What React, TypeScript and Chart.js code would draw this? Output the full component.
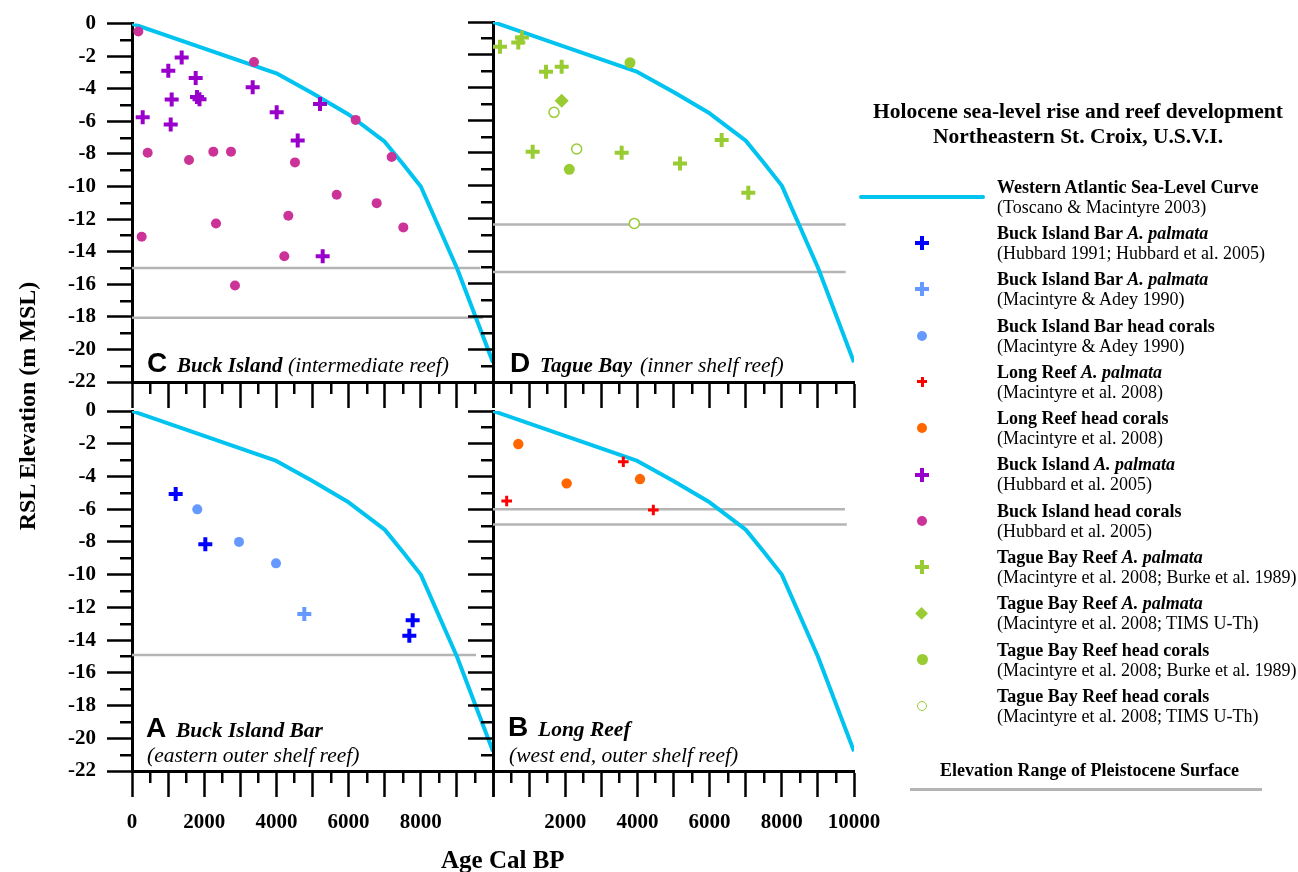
import React, { useEffect, useRef } from 'react';
import { Chart, registerables } from 'chart.js';

Chart.register(...registerables);

const W = 1298;
const H = 872;
const SERIF = '"Liberation Serif", "Times New Roman", Times, serif';
const SANS = '"Liberation Sans", Arial, Helvetica, sans-serif';

const CYAN = '#00c3ef';
const GRAY = '#b4b4b4';
const DARK_BLUE = '#0000ff';
const LIGHT_BLUE = '#6699ff';
const RED = '#ff0000';
const ORANGE = '#ff6600';
const PURPLE = '#9900cc';
const MAGENTA = '#cc3399';
const GREEN = '#99cc33';

// Axes
const X_MIN = 0;
const X_MAX = 10000;
const X_STEP = 1000;
const Y_MIN = -22;
const Y_MAX = 0;
const Y_STEP = 2;
const xTickLabelsLeft = [0, 2000, 4000, 6000, 8000];
const xTickLabelsRight = [2000, 4000, 6000, 8000, 10000];

// Western Atlantic sea-level curve (Toscano & Macintyre 2003)
const seaLevelAge = [0, 4000, 5000, 6000, 7000, 7500, 8000, 9000, 10000];
const seaLevelRsl = [0, -3.05, -4.28, -5.58, -7.25, -8.6, -10.0, -15.0, -20.8];

type Pt = [number, number];

// Panel C: Buck Island
const buckIslandPalmata: Pt[] = [
  [1376, -2.08], [1006, -2.89], [1764, -3.34], [1099, -4.66], [1800, -4.5], [1870, -4.65],
  [3343, -3.91], [296, -5.75], [1072, -6.19], [4008, -5.44], [5208, -4.93], [4590, -7.17], [5282, -14.28],
];
const buckIslandHeadCorals: Pt[] = [
  [175, -0.49], [3380, -2.36], [6196, -5.91], [434, -7.93], [1579, -8.37], [2253, -7.86],
  [2742, -7.86], [4515, -8.52], [7193, -8.19], [5670, -10.51], [6778, -11.02], [268, -13.08],
  [2327, -12.27], [4330, -11.8], [7516, -12.51], [4219, -14.28], [2853, -16.08],
];
const buckIslandPleistocene = [-15.0, -18.05];
const buckIslandPleistoceneEnd = [9650, 9720];

// Panel D: Tague Bay
const taguePalmata: Pt[] = [
  [194, -1.51], [700, -1.25], [800, -0.95], [1468, -3.04], [1902, -2.73], [1099, -7.93],
  [3564, -7.99], [5180, -8.64], [6334, -7.21], [7072, -10.43],
];
const taguePalmataTims: Pt[] = [[1902, -4.81]];
const tagueHeadCorals: Pt[] = [[3795, -2.49], [2114, -9.0]];
const tagueHeadCoralsTims: Pt[] = [[1690, -5.52], [2318, -7.76], [3915, -12.31]];
const taguePleistocene = [-12.37, -15.28];
const taguePleistoceneEnd = [9770, 9770];

// Panel A: Buck Island Bar
const bibPalmataHubbard: Pt[] = [[1210, -5.07], [2031, -8.15], [7775, -12.78], [7682, -13.73]];
const bibPalmataMacintyre: Pt[] = [[4773, -12.41]];
const bibHeadCorals: Pt[] = [[1809, -6.01], [2964, -8.0], [3989, -9.31]];
const bibPleistocene = [-14.91];
const bibPleistoceneEnd = [9530];

// Panel B: Long Reef
const longReefPalmata: Pt[] = [[379, -5.5], [3610, -3.1], [4441, -6.05]];
const longReefHeadCorals: Pt[] = [[701, -2.02], [2041, -4.42], [4072, -4.16]];
const longReefPleistocene = [-6.01, -6.93];
const longReefPleistoceneEnd = [9750, 9800];

const toXY = (pts: Pt[]) => pts.map(([x, y]) => ({ x, y }));

const crossSet = (pts: Pt[], color: string, radius = 7, width = 4) => ({
  data: toXY(pts), showLine: false, order: 0,
  pointStyle: 'cross', pointRadius: radius, pointBorderWidth: width,
  pointBorderColor: color, pointBackgroundColor: color,
});
const dotSet = (pts: Pt[], color: string, radius = 5) => ({
  data: toXY(pts), showLine: false, order: 0,
  pointStyle: 'circle', pointRadius: radius, pointBorderWidth: 0,
  pointBorderColor: color, pointBackgroundColor: color,
});
const ringSet = (pts: Pt[], color: string, radius = 5) => ({
  data: toXY(pts), showLine: false, order: 0,
  pointStyle: 'circle', pointRadius: radius, pointBorderWidth: 1.5,
  pointBorderColor: color, pointBackgroundColor: '#ffffff',
});
const diamondSet = (pts: Pt[], color: string, radius = 7) => ({
  data: toXY(pts), showLine: false, order: 0,
  pointStyle: 'rectRot', pointRadius: radius, pointBorderWidth: 0,
  pointBorderColor: color, pointBackgroundColor: color,
});
const curveSet = () => ({
  data: seaLevelAge.map((x, i) => ({ x, y: seaLevelRsl[i] })),
  showLine: true, borderColor: CYAN, borderWidth: 4, pointRadius: 0, tension: 0, order: 1,
  borderJoinStyle: 'round',
});
const pleistoceneSets = (levels: number[], ends: number[]) =>
  levels.map((y, i) => ({
    data: [{ x: 0, y }, { x: ends[i], y }],
    showLine: true, borderColor: GRAY, borderWidth: 2.5, pointRadius: 0, order: 2,
  }));

type Panel = {
  key: string; left: number; top: number; right: number; bottom: number;
  yLabels: boolean; xLabels: number[]; datasets: any[];
};

const panels: Panel[] = [
  {
    key: 'C', left: 132, top: 22, right: 493, bottom: 382, yLabels: true, xLabels: [],
    datasets: [
      crossSet(buckIslandPalmata, PURPLE),
      dotSet(buckIslandHeadCorals, MAGENTA),
      curveSet(),
      ...pleistoceneSets(buckIslandPleistocene, buckIslandPleistoceneEnd),
    ],
  },
  {
    key: 'D', left: 493, top: 22, right: 854, bottom: 382, yLabels: false, xLabels: [],
    datasets: [
      crossSet(taguePalmata, GREEN),
      diamondSet(taguePalmataTims, GREEN),
      dotSet(tagueHeadCorals, GREEN, 5.5),
      ringSet(tagueHeadCoralsTims, GREEN, 5),
      curveSet(),
      ...pleistoceneSets(taguePleistocene, taguePleistoceneEnd),
    ],
  },
  {
    key: 'A', left: 132, top: 411, right: 493, bottom: 771, yLabels: true, xLabels: xTickLabelsLeft,
    datasets: [
      crossSet(bibPalmataHubbard, DARK_BLUE),
      crossSet(bibPalmataMacintyre, LIGHT_BLUE),
      dotSet(bibHeadCorals, LIGHT_BLUE),
      curveSet(),
      ...pleistoceneSets(bibPleistocene, bibPleistoceneEnd),
    ],
  },
  {
    key: 'B', left: 493, top: 411, right: 854, bottom: 771, yLabels: false, xLabels: xTickLabelsRight,
    datasets: [
      crossSet(longReefPalmata, RED, 5.3, 3),
      dotSet(longReefHeadCorals, ORANGE, 5.2),
      curveSet(),
      ...pleistoceneSets(longReefPleistocene, longReefPleistoceneEnd),
    ],
  },
];

const MAJOR_TICK = 25;
const MINOR_TICK = 12;

const minorTicksPlugin = {
  id: 'minorTicks',
  afterDraw(chart: any) {
    const { ctx, chartArea } = chart;
    const xs = chart.scales.x;
    const ys = chart.scales.y;
    ctx.save();
    ctx.strokeStyle = '#000';
    ctx.lineWidth = 2.5;
    for (let v = Y_MIN + Y_STEP / 2; v < Y_MAX; v += Y_STEP) {
      const py = Math.round(ys.getPixelForValue(v)) + 0.25;
      ctx.beginPath();
      ctx.moveTo(chartArea.left - MINOR_TICK, py);
      ctx.lineTo(chartArea.left, py);
      ctx.stroke();
    }
    for (let v = X_MIN + X_STEP / 2; v < X_MAX; v += X_STEP) {
      const px = Math.round(xs.getPixelForValue(v)) + 0.25;
      ctx.beginPath();
      ctx.moveTo(px, chartArea.bottom);
      ctx.lineTo(px, chartArea.bottom + MINOR_TICK);
      ctx.stroke();
    }
    ctx.restore();
  },
};

function PanelChart({ panel }: { panel: Panel }) {
  const ref = useRef<HTMLCanvasElement>(null);
  useEffect(() => {
    if (!ref.current) return;
    const yAxisWidth = panel.yLabels ? panel.left : MAJOR_TICK;
    const xAxisHeight = panel.xLabels.length ? 64 : 26;
    const tickFont = { family: SERIF, size: 21, weight: 'bold' as const };
    const chart = new Chart(ref.current, {
      type: 'scatter',
      data: { datasets: panel.datasets },
      options: {
        responsive: false,
        animation: false,
        events: [],
        layout: {
          padding: {
            left: panel.left - yAxisWidth,
            top: panel.top,
            right: W - panel.right,
            bottom: H - panel.bottom - xAxisHeight,
          },
        },
        plugins: { legend: { display: false }, tooltip: { enabled: false }, title: { display: false } },
        scales: {
          x: {
            type: 'linear', position: 'bottom', min: X_MIN, max: X_MAX,
            ticks: {
              stepSize: X_STEP, autoSkip: false, maxRotation: 0, minRotation: 0, maxTicksLimit: 100,
              display: panel.xLabels.length > 0, padding: 13, color: '#000', font: tickFont,
              callback: (v: any) => (panel.xLabels.includes(Number(v)) ? String(v) : ''),
            },
            grid: {
              drawOnChartArea: false, drawTicks: true, tickLength: 26, tickWidth: 2.5,
              tickColor: '#000', color: '#000',
            },
            border: { display: true, width: 3, color: '#000' },
            afterFit: (s: any) => { s.height = xAxisHeight; },
          },
          y: {
            type: 'linear', position: 'left', min: Y_MIN, max: Y_MAX,
            ticks: {
              stepSize: Y_STEP, autoSkip: false, maxTicksLimit: 100,
              display: panel.yLabels, padding: 11, color: '#000', font: tickFont,
              callback: (v: any) => String(v),
            },
            grid: {
              drawOnChartArea: false, drawTicks: true, tickLength: MAJOR_TICK, tickWidth: 2.5,
              tickColor: '#000', color: '#000',
            },
            border: { display: true, width: 3, color: '#000' },
            afterFit: (s: any) => { s.width = yAxisWidth; },
          },
        },
      } as any,
      plugins: [minorTicksPlugin],
    });
    return () => chart.destroy();
  }, [panel]);
  return (
    <canvas
      ref={ref}
      width={W}
      height={H}
      style={{ position: 'absolute', left: 0, top: 0, width: W, height: H }}
    />
  );
}

type TxtProps = {
  x: number; base: number; size: number; family?: string; weight?: number;
  italic?: boolean; center?: boolean; children: React.ReactNode;
};
function Txt({ x, base, size, family = SERIF, weight = 400, italic = false, center = false, children }: TxtProps) {
  const ratio = family === SANS ? 0.8465 : 0.8375;
  const style: React.CSSProperties = {
    position: 'absolute', top: base - ratio * size, fontSize: size, lineHeight: `${size}px`,
    fontFamily: family, fontWeight: weight, fontStyle: italic ? 'italic' : 'normal',
    whiteSpace: 'nowrap', color: '#000',
  };
  if (center) {
    style.left = x - 300; style.width = 600; style.textAlign = 'center';
  } else {
    style.left = x;
  }
  return <div style={style}>{children}</div>;
}

type LegendEntry = {
  bold: string; italic: string; source: string; marker: string; color: string; size: number; stroke?: number;
};
const legendEntries: LegendEntry[] = [
  { bold: 'Western Atlantic Sea-Level Curve', italic: '', source: '(Toscano & Macintyre 2003)', marker: 'line', color: CYAN, size: 126 },
  { bold: 'Buck Island Bar ', italic: 'A. palmata', source: '(Hubbard 1991; Hubbard et al. 2005)', marker: 'cross', color: DARK_BLUE, size: 14, stroke: 4 },
  { bold: 'Buck Island Bar ', italic: 'A. palmata', source: '(Macintyre & Adey 1990)', marker: 'cross', color: LIGHT_BLUE, size: 14, stroke: 4 },
  { bold: 'Buck Island Bar head corals', italic: '', source: '(Macintyre & Adey 1990)', marker: 'dot', color: LIGHT_BLUE, size: 10 },
  { bold: 'Long Reef ', italic: 'A. palmata', source: '(Macintyre et al. 2008)', marker: 'cross', color: RED, size: 10, stroke: 3 },
  { bold: 'Long Reef head corals', italic: '', source: '(Macintyre et al. 2008)', marker: 'dot', color: ORANGE, size: 10 },
  { bold: 'Buck Island ', italic: 'A. palmata', source: '(Hubbard et al. 2005)', marker: 'cross', color: PURPLE, size: 14, stroke: 4 },
  { bold: 'Buck Island head corals', italic: '', source: '(Hubbard et al. 2005)', marker: 'dot', color: MAGENTA, size: 10 },
  { bold: 'Tague Bay Reef ', italic: 'A. palmata', source: '(Macintyre et al. 2008; Burke et al. 1989)', marker: 'cross', color: GREEN, size: 14, stroke: 4 },
  { bold: 'Tague Bay Reef ', italic: 'A. palmata', source: '(Macintyre et al. 2008; TIMS U-Th)', marker: 'diamond', color: GREEN, size: 13 },
  { bold: 'Tague Bay Reef head corals', italic: '', source: '(Macintyre et al. 2008; Burke et al. 1989)', marker: 'dot', color: GREEN, size: 11 },
  { bold: 'Tague Bay Reef head corals', italic: '', source: '(Macintyre et al. 2008; TIMS U-Th)', marker: 'ring', color: GREEN, size: 10.5 },
];

function Marker({ e, cx, cy }: { e: LegendEntry; cx: number; cy: number }) {
  const abs: React.CSSProperties = { position: 'absolute' };
  const s = e.size;
  if (e.marker === 'line') {
    return <div style={{ ...abs, left: 859, top: cy - 2, width: s, height: 4, background: e.color, borderRadius: 2 }} />;
  }
  if (e.marker === 'cross') {
    const t = e.stroke || 4;
    return (
      <>
        <div style={{ ...abs, left: cx - s / 2, top: cy - t / 2, width: s, height: t, background: e.color }} />
        <div style={{ ...abs, left: cx - t / 2, top: cy - s / 2, width: t, height: s, background: e.color }} />
      </>
    );
  }
  if (e.marker === 'dot') {
    return <div style={{ ...abs, left: cx - s / 2, top: cy - s / 2, width: s, height: s, borderRadius: '50%', background: e.color }} />;
  }
  if (e.marker === 'ring') {
    return <div style={{ ...abs, left: cx - s / 2, top: cy - s / 2, width: s, height: s, borderRadius: '50%', border: `1.5px solid ${e.color}`, boxSizing: 'border-box', background: '#fff' }} />;
  }
  const d = s / Math.SQRT2;
  return <div style={{ ...abs, left: cx - d / 2, top: cy - d / 2, width: d, height: d, background: e.color, transform: 'rotate(45deg)' }} />;
}

export default function App() {
  const legendBase = 192.7;
  const legendStep = 46.3;
  return (
    <div style={{ position: 'absolute', left: 0, top: 0, width: W, height: H, background: '#fff', overflow: 'hidden' }}>
      {panels.map((p) => <PanelChart key={p.key} panel={p} />)}

      {/* Panel labels */}
      <Txt x={147} base={373} size={28} family={SANS} weight={700}>C</Txt>
      <Txt x={177} base={373} size={21} weight={700} italic>Buck Island</Txt>
      <Txt x={288} base={373} size={21.5} italic>(intermediate reef)</Txt>

      <Txt x={510} base={373} size={28} family={SANS} weight={700}>D</Txt>
      <Txt x={540} base={373} size={21} weight={700} italic>Tague Bay</Txt>
      <Txt x={640} base={373} size={21.5} italic>(inner shelf reef)</Txt>

      <Txt x={146} base={738} size={28} family={SANS} weight={700}>A</Txt>
      <Txt x={176} base={738} size={21.5} weight={700} italic>Buck Island Bar</Txt>
      <Txt x={147} base={763} size={21.5} italic>(eastern outer shelf reef)</Txt>

      <Txt x={508} base={737} size={28} family={SANS} weight={700}>B</Txt>
      <Txt x={538} base={737} size={21.5} weight={700} italic>Long Reef</Txt>
      <Txt x={509} base={763} size={21.5} italic>(west end, outer shelf reef)</Txt>

      {/* Axis titles */}
      <div
        style={{
          position: 'absolute', left: 27 - 200, top: 406 - 12, width: 400, height: 24,
          lineHeight: '24px', fontSize: 24, fontFamily: SERIF, fontWeight: 700, textAlign: 'center',
          transform: 'rotate(-90deg)', whiteSpace: 'nowrap', color: '#000',
        }}
      >
        RSL Elevation (m MSL)
      </div>
      <Txt x={441} base={868} size={25} weight={700}>Age Cal BP</Txt>

      {/* Legend */}
      <Txt x={1078} base={119} size={21.5} weight={700} center>Holocene sea-level rise and reef development</Txt>
      <Txt x={1078} base={144} size={21.5} weight={700} center>Northeastern St. Croix, U.S.V.I.</Txt>

      {legendEntries.map((e, i) => {
        const b = legendBase + legendStep * i;
        return (
          <React.Fragment key={i}>
            <Marker e={e} cx={922} cy={b + 4} />
            <Txt x={997} base={b} size={18} weight={700}>
              {e.bold}
              {e.italic ? <span style={{ fontStyle: 'italic' }}>{e.italic}</span> : null}
            </Txt>
            <Txt x={997} base={b + 20} size={18}>{e.source}</Txt>
          </React.Fragment>
        );
      })}

      <Txt x={1089.5} base={776} size={18} weight={700} center>Elevation Range of Pleistocene Surface</Txt>
      <div style={{ position: 'absolute', left: 910, top: 788, width: 352, height: 3, background: GRAY }} />
    </div>
  );
}
